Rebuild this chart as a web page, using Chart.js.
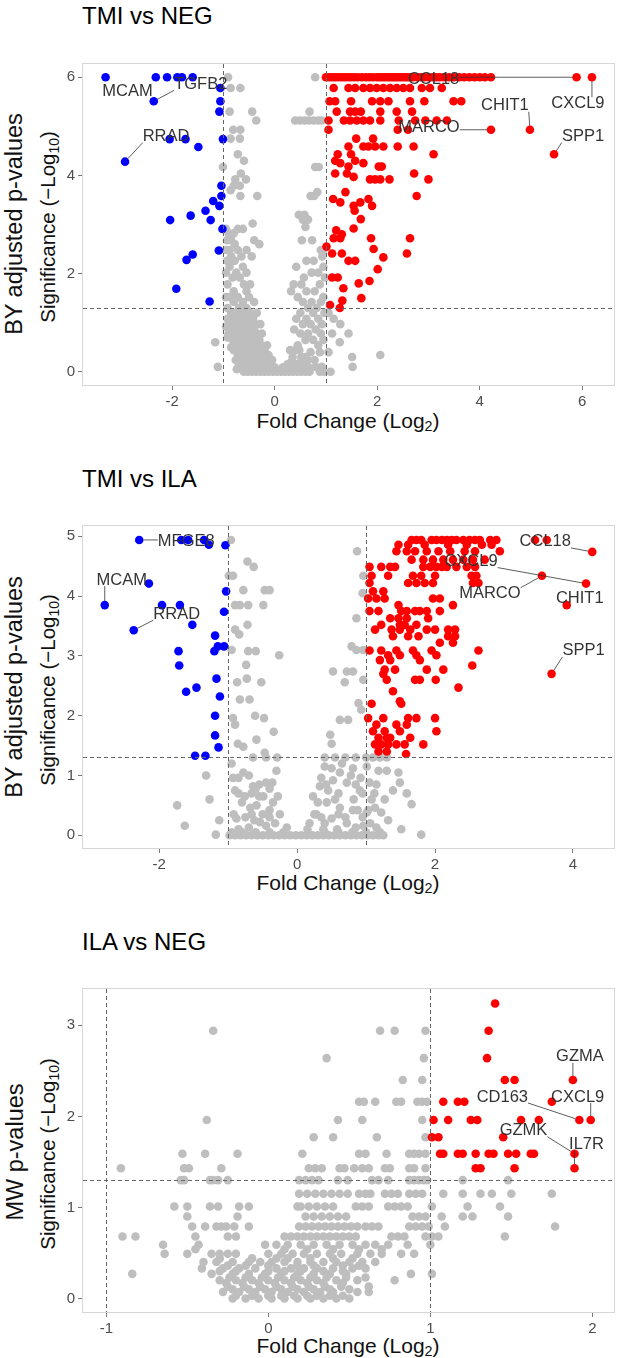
<!DOCTYPE html>
<html>
<head>
<meta charset="utf-8">
<script src="https://cdn.jsdelivr.net/npm/chart.js@4.4.1/dist/chart.umd.min.js"></script>
<style>
  body { margin: 0; background: #fff; }
  #page { position: relative; width: 620px; height: 1358px; overflow: hidden;
          font-family: "Liberation Sans", Arial, sans-serif; }
  canvas { position: absolute; left: 0; }
  .title { position: absolute; left: 82px; font-size: 24px; line-height: 24px; color: #000; white-space: nowrap; }
  .xtitle, .ytitle, .ylabel { position: absolute; white-space: nowrap; line-height: 1; color: #111; }
  .xtitle { transform: translate(-50%, -50%); font-size: 21px; }
  .ytitle { transform: translate(-50%, -50%) rotate(-90deg); font-size: 20.5px; }
  .ylabel { transform: translate(-50%, -50%) rotate(-90deg); font-size: 23.5px; }
  sub { font-size: 0.68em; vertical-align: -0.28em; line-height: 0; }
</style>
</head>
<body>
<div id="page">
  <div class="title" style="top:4px">TMI vs NEG</div>
  <div class="ylabel" style="left:15px; top:224px">BY adjusted p-values</div>
  <div class="ytitle" style="left:48px; top:227px">Significance (−Log<sub>10</sub>)</div>
  <div class="xtitle" style="left:348px; top:420px">Fold Change (Log<sub>2</sub>)</div>
  <canvas id="c1"></canvas>

  <div class="title" style="top:467px">TMI vs ILA</div>
  <div class="ylabel" style="left:15px; top:687px">BY adjusted p-values</div>
  <div class="ytitle" style="left:48px; top:690px">Significance (−Log<sub>10</sub>)</div>
  <div class="xtitle" style="left:348px; top:882px">Fold Change (Log<sub>2</sub>)</div>
  <canvas id="c2"></canvas>

  <div class="title" style="top:930px">ILA vs NEG</div>
  <div class="ylabel" style="left:16px; top:1152px">MW p-values</div>
  <div class="ytitle" style="left:48px; top:1154px">Significance (−Log<sub>10</sub>)</div>
  <div class="xtitle" style="left:348px; top:1345px">Fold Change (Log<sub>2</sub>)</div>
  <canvas id="c3"></canvas>
</div>
<script>
// ---- data: each row is [significance, [fold changes...]] ----

// TMI vs NEG
const p1Grey = [
  [6.0, [-0.91, 0.79]],
  [5.78, [-0.86, -0.67]],
  [5.30, [-0.88, -0.44, 0.68]],
  [5.12, [-0.36, 0.40, 0.49, 0.58, 0.67, 0.76, 0.85, 0.92]],
  [4.93, [-0.81, -0.67]],
  [4.75, [-0.86, -0.68]],
  [4.43, [-0.72]],
  [4.30, [-0.60]],
  [4.17, [-1.01, 0.79, 0.86]],
  [4.04, [-0.66]],
  [3.92, [-0.77, -0.56]],
  [3.79, [-0.80, -0.68]],
  [3.70, [-0.86]],
  [3.66, [0.83]],
  [3.58, [-0.67, -0.34, 0.70, 0.77]],
  [3.20, [0.47, 0.58]],
  [3.10, [0.55, 0.65]],
  [3.02, [-0.43]],
  [2.95, [0.60]],
  [2.91, [-0.95, -0.72, -0.62]],
  [2.82, [-0.90, -0.80]],
  [2.68, [-0.93, -0.85, -0.40, 0.53, 0.73]],
  [2.60, [-0.78, -0.30]],
  [2.48, [-0.95, -0.88, -0.72, -0.55, 0.90, 0.95]],
  [2.35, [-0.85, -0.65, -0.45, 0.93]],
  [2.26, [-0.93, -0.78, 0.62, 0.76]],
  [2.14, [-0.88, -0.62, 0.42, 0.95]],
  [2.02, [-0.95, -0.75, -0.55, 0.72, 0.85]],
  [1.92, [-0.82, -0.68, 0.57, 0.98]],
  [1.78, [-0.92, -0.60, -0.48, 0.37, 0.52, 0.88]],
  [1.64, [-0.80, -0.55, 0.32, 0.62, 0.78]],
  [1.52, [-0.95, -0.87, -0.72, -0.50, 0.45, 0.95]],
  [1.42, [-0.80, -0.62, -0.40, 0.55, 0.72, 0.90]],
  [1.30, [-0.92, -0.70, -0.55, 0.65, 0.82]],
  [1.20, [-0.85, -0.75, -0.62, -0.48, -0.35, 0.50, 0.75, 0.97, 1.05]],
  [1.08, [-0.92, -0.80, -0.68, -0.55, -0.42, 0.42, 0.62, 0.85, 1.15]],
  [0.97, [-0.88, -0.72, -0.60, -0.50, -0.38, -0.28, 0.55, 0.70, 0.92, 1.28]],
  [0.92, [-0.95, -0.84, -0.78]],
  [0.86, [-0.80, -0.66, -0.52, -0.40, 0.38, 0.80]],
  [0.78, [-0.90, -0.75, -0.62, -0.48, -0.35, -0.25, 0.50, 0.65, 0.90, 1.12, 1.44]],
  [0.70, [-0.92, -0.78, -0.66]],
  [0.65, [-0.82, -0.70, -0.56, -0.44, -0.30, 0.60, 0.75, 0.95]],
  [0.60, [-1.16, 1.27]],
  [0.54, [-0.75, -0.62, -0.50, -0.38, -0.26, -0.15, 0.45, 0.85]],
  [0.50, [-0.85, -0.70, -0.56]],
  [0.44, [-0.80, -0.68, -0.56, -0.44, -0.32, -0.20, 0.30, 0.40, 0.48]],
  [0.40, [0.70, 0.88, 1.05]],
  [0.34, [-0.72, -0.60, -0.48, -0.36, -0.24, -0.12, 2.06]],
  [0.30, [0.35, 0.52, 0.60, 1.51]],
  [0.24, [-0.76, -0.64, -0.52, -0.40, -0.28, -0.16, -0.05, 0.65, 0.78]],
  [0.20, [-0.66, -0.50, -0.32, 0.32, 0.50]],
  [0.15, [-0.70, -0.58, -0.46, -0.34, -0.22, -0.10, 0.25, 0.42, 0.58]],
  [0.10, [-1.11, 0.80, 0.92, 1.52]],
  [0.09, [-0.64, -0.48, -0.30, -0.16, 0.00, 0.16, 0.34, 0.50, 0.66]],
  [0.05, [-0.74, -0.62, -0.50, -0.38]],
  [0.02, [-0.56, -0.40, -0.24, -0.08, 0.08, 0.24, 0.40, 0.56]],
  [0.0, [-0.60, -0.52, -0.44, -0.36, -0.28, -0.20, -0.12, -0.04, 0.04, 0.12, 0.20, 0.28,
         0.36, 0.44, 0.52, 0.60, 0.68, 0.88, 0.96, 1.09]]
];
const p1Up = [
  [6.0, [1.00, 1.06, 1.12, 1.18, 1.24, 1.30, 1.36, 1.42, 1.48, 1.55, 1.62, 1.70, 1.78, 1.85,
         1.92, 2.00, 2.05, 2.10, 2.15, 2.20, 2.25, 2.30, 2.35, 2.40, 2.45, 2.50, 2.55, 2.60,
         2.65, 2.70, 2.78, 2.85, 2.92, 3.00, 3.08, 3.15, 3.22, 3.30, 3.40, 3.50, 3.60, 3.70,
         3.80, 3.90, 4.00, 4.10, 4.22, 5.89, 6.19]],
  [5.78, [1.15, 1.44, 1.57, 1.73, 1.86, 1.99, 2.12, 2.25, 2.38, 2.51, 2.64, 2.87, 3.03, 3.26]],
  [5.51, [1.07, 1.18, 1.49, 1.90, 2.06, 2.22, 2.64, 2.92, 3.49, 3.64]],
  [5.30, [1.21, 1.47, 1.57, 1.68, 2.06, 2.38, 2.68]],
  [5.12, [1.05, 1.35, 1.47, 1.60, 1.73, 1.86, 2.06, 2.42, 2.74, 2.94, 3.16, 3.36]],
  [4.93, [1.05, 2.40, 2.60, 4.22, 4.98]],
  [4.75, [1.59, 1.92]],
  [4.59, [1.44, 1.73, 1.83, 1.96, 2.12, 2.40, 2.71]],
  [4.43, [1.23, 1.49, 3.10, 5.45]],
  [4.30, [1.18, 1.57]],
  [4.25, [1.28, 1.73]],
  [4.18, [1.44, 2.03, 2.09]],
  [4.04, [1.18, 1.41, 2.72]],
  [3.97, [1.54]],
  [3.92, [1.86, 1.96, 2.06, 2.24, 3.00]],
  [3.66, [1.38]],
  [3.58, [2.77]],
  [3.52, [1.14, 1.83]],
  [3.45, [1.28, 1.67]],
  [3.38, [1.54, 1.90]],
  [3.28, [1.56]],
  [3.11, [1.68]],
  [2.92, [1.54]],
  [2.88, [1.20]],
  [2.80, [1.31]],
  [2.72, [1.15, 1.28, 1.88, 2.64]],
  [2.55, [1.01]],
  [2.50, [1.93]],
  [2.41, [1.12, 1.31, 2.58]],
  [2.33, [2.12]],
  [2.26, [1.44, 1.57]],
  [2.09, [2.01]],
  [1.92, [1.12, 1.23]],
  [1.85, [1.85]],
  [1.80, [1.64]],
  [1.70, [1.34]],
  [1.50, [1.69]],
  [1.45, [1.32]],
  [1.36, [1.08]],
  [1.30, [1.27]]
];
const p1Down = [
  [6.0, [-3.30, -2.32, -2.10, -1.90, -1.81, -1.60]],
  [5.78, [-1.06]],
  [5.51, [-2.36, -1.06]],
  [5.30, [-1.08]],
  [4.74, [-2.05, -1.74, -1.01]],
  [4.58, [-1.49]],
  [4.28, [-2.92]],
  [3.79, [-1.04]],
  [3.58, [-1.04]],
  [3.48, [-1.20]],
  [3.38, [-1.08]],
  [3.28, [-1.35]],
  [3.18, [-1.64]],
  [3.09, [-2.04, -1.25]],
  [2.91, [-1.02]],
  [2.47, [-1.09]],
  [2.39, [-1.60]],
  [2.28, [-1.72]],
  [1.69, [-1.92]],
  [1.43, [-1.27]]
];
const p1Genes = ['MCAM', 'TGFB2', 'RRAD', 'CCL18', 'CXCL9', 'CHIT1', 'MARCO', 'SPP1'];
const p1GeneFC = [-3.30, -2.36, -2.92, 5.89, 6.19, 4.98, 4.22, 5.45];
const p1GeneSig = [6.0, 5.51, 4.28, 6.0, 6.0, 4.93, 4.93, 4.43];
const p1XTicks = [-2, 0, 2, 4, 6];
const p1YTicks = [0, 2, 4, 6];

// TMI vs ILA
const p2Grey = [
  [4.94, [-0.96]],
  [4.75, [0.87]],
  [4.58, [-0.72]],
  [4.49, [-0.63]],
  [4.34, [-0.99, -0.93, 0.96]],
  [4.10, [-0.78, -0.47, -0.40]],
  [4.05, [0.95]],
  [3.85, [-0.90, -0.83, -0.71, -0.49]],
  [3.63, [0.86]],
  [3.52, [-0.72]],
  [3.44, [-0.90]],
  [3.36, [-0.84]],
  [3.16, [0.79]],
  [3.10, [-0.95, 0.86, 0.96]],
  [3.08, [-0.71, -0.60]],
  [3.01, [-0.26]],
  [2.85, [-0.74]],
  [2.74, [0.52, 0.72, 0.81]],
  [2.62, [-0.73]],
  [2.60, [0.96]],
  [2.56, [-0.87, -0.52, 0.69]],
  [2.27, [-0.83, -0.69]],
  [2.21, [0.89]],
  [2.10, [0.93]],
  [2.00, [-0.61]],
  [1.96, [-0.93, -0.48]],
  [1.93, [0.62, 0.74]],
  [1.85, [-0.90]],
  [1.73, [-0.34]],
  [1.68, [0.48]],
  [1.60, [-0.59]],
  [1.53, [-0.86, 0.50]],
  [1.48, [-0.78]],
  [1.38, [-0.47]],
  [1.30, [-0.64, -0.45, -0.29, 0.40, 0.55, 0.70, 0.85, 1.00, 1.10, 1.20, 1.30]],
  [1.20, [-0.95, 0.65]],
  [1.15, [0.40, 1.01]],
  [1.12, [0.81, 0.50]],
  [1.08, [-0.30, 1.30, 1.18]],
  [1.05, [-0.78, 0.62, 1.47]],
  [1.00, [-1.32, -0.70, 0.78]],
  [0.96, [-0.93, -0.85, 0.35, 0.92]],
  [0.92, [0.52]],
  [0.88, [-0.36, -0.45, 0.72, 1.49, 1.05]],
  [0.85, [-0.55, 0.42, 0.85, 1.15]],
  [0.82, [-0.64, 0.33]],
  [0.78, [-0.60, -0.40]],
  [0.75, [-0.90, 0.91, 1.39, 0.45]],
  [0.70, [1.59, 1.12, -0.85, -0.66, 0.60, 0.95]],
  [0.65, [-0.76, -0.49, 0.23, -0.55, -0.28]],
  [0.60, [-1.27, 1.08, 1.27, 0.55, 0.82]],
  [0.55, [0.43, 0.30, -0.80, -0.35]],
  [0.52, [1.66]],
  [0.50, [-1.74, -0.59]],
  [0.46, [0.62, 1.13, -0.68]],
  [0.42, [-0.40, 0.81, 1.03, 0.88]],
  [0.38, [1.01, 1.22]],
  [0.35, [-0.66, 0.28, -0.25, -0.50, -0.92, 0.60, 0.25]],
  [0.30, [-0.75, -0.40, 0.35, 0.70, 0.95]],
  [0.28, [-0.88, 0.50]],
  [0.25, [-1.13, 1.32, -0.62]],
  [0.22, [-0.54]],
  [0.20, [0.72, 1.06, -0.32, 0.18, 0.40]],
  [0.16, [-1.63, 0.96, -0.45]],
  [0.13, [-0.15, -0.70, 0.85, 1.15]],
  [0.10, [0.38, 1.51, -0.85, 0.58, 0.15]],
  [0.05, [-0.95, -0.80, -0.60, -0.40, -0.20, 0.40, 0.60, 0.80, 1.00, 1.20]],
  [0.01, [-1.18, 1.80]],
  [0.0, [-0.98, -0.90, -0.82, -0.74, -0.66, -0.58, -0.50, -0.42, -0.34, -0.26, -0.18, -0.10,
         -0.02, 0.06, 0.14, 0.22, 0.30, 0.38, 0.46, 0.54, 0.62, 0.70, 0.78, 0.86, 0.94, 1.02,
         1.10, 1.18, 1.25]]
];
const p2Up = [
  [4.94, [1.66, 1.73, 1.80, 1.95, 2.02, 2.10, 2.17, 2.24, 2.31, 2.41, 2.50, 2.58, 2.65, 2.80,
          2.89, 3.45, 3.62]],
  [4.86, [1.47, 1.61, 1.85, 2.19, 2.46, 2.68, 2.82]],
  [4.75, [1.44, 1.59, 1.71, 1.88, 2.05, 2.22, 2.43, 2.58, 2.94]],
  [4.74, [4.28]],
  [4.61, [1.66, 1.83, 1.97, 2.12, 2.26, 2.41, 2.55, 2.72]],
  [4.49, [1.05, 1.22, 1.35, 1.42, 1.83, 1.93, 2.02, 2.10, 2.17, 2.31, 2.46, 2.58]],
  [4.34, [1.08, 1.32, 1.68, 1.80, 2.00, 2.53, 2.60, 3.55]],
  [4.22, [1.05, 1.61, 1.73, 1.85, 1.97, 2.55, 2.63]],
  [4.21, [4.19]],
  [4.08, [1.10, 1.25]],
  [3.96, [1.03, 1.15, 1.27, 1.97, 2.07]],
  [3.85, [1.47, 2.26, 3.91]],
  [3.75, [1.05, 1.18, 1.51, 1.59, 1.71, 1.78, 1.88, 2.07]],
  [3.63, [1.35, 1.47, 1.59, 1.90]],
  [3.52, [1.22, 1.49, 1.56, 1.73]],
  [3.44, [1.13, 1.37, 1.49, 1.64, 1.88, 2.00, 2.19, 2.29]],
  [3.33, [1.39, 1.61, 1.76, 2.19, 2.29]],
  [3.22, [2.07, 2.26]],
  [3.09, [1.05, 1.22, 1.44, 1.68, 1.95, 2.63]],
  [3.01, [1.32, 1.49, 1.73, 2.02]],
  [2.93, [1.20, 1.35, 1.78]],
  [2.84, [2.54]],
  [2.77, [1.27, 1.42, 1.88, 2.12]],
  [2.70, [1.25, 3.69]],
  [2.60, [1.30, 1.71, 1.78, 2.01]],
  [2.47, [2.34]],
  [2.41, [1.39]],
  [2.24, [1.49]],
  [2.20, [1.08, 1.51]],
  [1.96, [1.03, 1.25, 1.61, 1.73, 2.00]],
  [1.85, [1.15, 1.44, 1.59]],
  [1.74, [1.10, 1.27, 1.49, 2.02]],
  [1.63, [1.18, 1.30, 1.35, 1.64]],
  [1.52, [1.13, 1.22, 1.32, 1.44, 1.56, 1.83]],
  [1.40, [1.18, 1.30]],
  [1.36, [1.58]]
];
const p2Down = [
  [4.94, [-2.29, -1.68, -1.58, -1.35]],
  [4.86, [-1.28]],
  [4.85, [-1.04]],
  [4.21, [-2.15]],
  [4.08, [-1.03]],
  [3.85, [-2.79, -1.96, -1.70]],
  [3.74, [-1.06]],
  [3.52, [-1.52]],
  [3.43, [-2.37]],
  [3.34, [-1.19]],
  [3.16, [-1.15, -1.06]],
  [3.08, [-1.72, -1.20]],
  [2.84, [-1.71]],
  [2.62, [-1.17]],
  [2.47, [-1.46]],
  [2.40, [-1.61]],
  [2.32, [-1.12]],
  [2.00, [-1.19]],
  [1.67, [-1.19]],
  [1.47, [-1.14]],
  [1.33, [-1.48, -1.33]]
];
const p2Genes = ['MFGE8', 'MCAM', 'RRAD', 'CCL18', 'CXCL9', 'MARCO', 'CHIT1', 'SPP1'];
const p2GeneFC = [-2.29, -2.79, -2.37, 4.28, 4.19, 3.55, 3.91, 3.69];
const p2GeneSig = [4.94, 3.85, 3.43, 4.74, 4.21, 4.34, 3.85, 2.70];
const p2XTicks = [-2, 0, 2, 4];
const p2YTicks = [0, 1, 2, 3, 4, 5];

// ILA vs NEG
const p3Grey = [
  [2.94, [-0.34, 0.69, 0.78, 0.97]],
  [2.64, [0.36, 0.96]],
  [2.40, [0.83, 0.95]],
  [2.16, [0.56, 0.59, 0.66, 0.79, 0.82, 0.92, 0.95, 0.98]],
  [1.96, [-0.38, 0.43, 0.58, 0.95]],
  [1.77, [0.28, 0.40, 0.67, 0.97]],
  [1.59, [-0.53, -0.39, -0.19, 0.21, 0.56, 0.60, 0.73, 0.87, 0.90, 0.93, 0.97]],
  [1.43, [-0.91, -0.52, -0.49, -0.29, 0.25, 0.29, 0.33, 0.44, 0.47, 0.53, 0.58, 0.62, 0.72,
          0.75, 0.87, 0.90, 0.97]],
  [1.30, [-0.54, -0.52, -0.36, -0.34, -0.31, -0.25, 0.19, 0.23, 0.27, 0.31, 0.43, 0.49, 0.64,
          0.68, 0.74, 0.87, 0.90, 0.93, 0.96, 0.98, 1.20, 1.48]],
  [1.15, [0.19, 0.24, 0.29, 0.34, 0.39, 0.44, 0.49, 0.56, 0.60, 0.63, 0.72, 0.76, 0.80, 0.87,
          0.91, 0.95, 1.08, 1.20, 1.31, 1.38, 1.50, 1.75]],
  [1.01, [-0.58, -0.50, -0.36, -0.31, -0.18, -0.12, 0.18, 0.20, 0.25, 0.30, 0.35, 0.40, 0.54,
          0.58, 0.62, 0.74, 0.78, 0.82, 0.86, 1.01, 1.23, 1.43]],
  [0.90, [-0.50, -0.19, 0.23, 0.28, 0.33, 0.38, 0.43, 0.48, 0.89, 0.93, 0.97, 1.07, 1.20,
          1.26, 1.48]],
  [0.79, [-0.47, -0.39, -0.32, -0.29, -0.26, -0.21, -0.12, 0.19, 0.23, 0.27, 0.31, 0.35, 0.39,
          0.43, 0.47, 0.51, 0.55, 0.60, 0.64, 0.68, 0.87, 0.91, 0.95, 0.99, 1.09, 1.77]],
  [0.68, [-0.90, -0.82, -0.45, -0.25, -0.20, 0.10, 0.14, 0.18, 0.22, 0.26, 0.30, 0.34, 0.38,
          0.42, 0.46, 0.50, 0.54, 0.76, 0.80, 0.84, 0.97, 1.01, 1.05, 1.46]],
  [0.59, [-0.65, -0.43, -0.02, 0.05, 0.12, 0.20, 0.28, 0.36, 0.44, 0.52, 0.60, 0.66, 0.74,
          0.86, 1.00]],
  [0.54, [-0.45, 0.10, 0.24, 0.40, 0.56, 0.70]],
  [0.49, [-0.64, -0.50, -0.35, -0.30, -0.25, -0.20, 0.00, 0.08, 0.15, 0.22, 0.30, 0.38, 0.45,
          0.55, 0.63, 0.70, 0.82, 0.90]],
  [0.44, [-0.30, -0.10, 0.05, 0.12, 0.26, 0.40, 0.52]],
  [0.40, [-0.40, -0.32, -0.22, -0.12, -0.05, 0.02, 0.10, 0.18, 0.26, 0.34, 0.42, 0.50, 0.58,
          0.66]],
  [0.36, [-0.25, -0.14, 0.00, 0.18, 0.28, 0.46, 0.56]],
  [0.33, [-0.41, -0.28, -0.18, -0.08, 0.05, 0.14, 0.22, 0.30, 0.40, 0.52, 0.60]],
  [0.30, [-0.30, -0.20, 0.00, 0.10, 0.20, 0.34, 0.46]],
  [0.27, [-0.84, -0.35, -0.22, -0.12, -0.02, 0.08, 0.18, 0.28, 0.38, 0.48, 0.88, 1.01]],
  [0.23, [-0.24, -0.14, -0.04, 0.06, 0.16, 0.26, 0.36, 0.48, 0.60]],
  [0.20, [-0.30, -0.20, -0.10, 0.00, 0.10, 0.20, 0.30, 0.42, 0.55, 0.78]],
  [0.17, [-0.26, -0.16, -0.06, 0.04, 0.14, 0.24, 0.34, 0.46]],
  [0.13, [-0.25, -0.15, -0.05, 0.05, 0.15, 0.25, 0.35, 0.45, 0.62]],
  [0.10, [-0.22, -0.12, -0.02, 0.08, 0.18, 0.28, 0.38, 0.50]],
  [0.07, [-0.28, -0.18, -0.08, 0.02, 0.12, 0.22, 0.32, 0.40, 0.55, 0.62]],
  [0.03, [-0.20, -0.10, 0.00, 0.08, 0.16, 0.24, 0.30, 0.38, 0.46]],
  [0.0, [-0.22, -0.14, -0.06, 0.02, 0.10, 0.18, 0.26, 0.34, 0.42, 0.50]]
];
const p3Up = [
  [3.24, [1.40]],
  [2.94, [1.36]],
  [2.64, [1.35]],
  [2.40, [1.46, 1.52, 1.88]],
  [2.16, [1.08, 1.17, 1.21, 1.75]],
  [1.96, [1.02, 1.11, 1.25, 1.29, 1.56, 1.67, 1.92, 1.99]],
  [1.77, [1.01, 1.05, 1.45]],
  [1.59, [1.06, 1.08, 1.17, 1.20, 1.28, 1.36, 1.39, 1.48, 1.53, 1.62, 1.64, 1.89]],
  [1.43, [1.28, 1.31, 1.52, 1.89]]
];
const p3Down = [];
const p3Genes = ['GZMA', 'CD163', 'CXCL9', 'GZMK', 'IL7R'];
const p3GeneFC = [1.88, 1.92, 1.99, 1.89, 1.89];
const p3GeneSig = [2.40, 1.96, 1.96, 1.59, 1.43];
const p3XTicks = [-1, 0, 1, 2];
const p3YTicks = [0, 1, 2, 3];

const fcCutoffs = [-1, 1];
const sigCutoff = 1.301;   // -log10(0.05)

// ---- layout (pixels) ----
const frames = [
  { id: 'c1', top: 63, bottom: 386, x: [-3.76, 6.64], y: [-0.29, 6.29],
    nudge: [[22, 14], [47, -17], [41, -25], [-143, 2], [-14, 26], [-25, -24], [-62, -2], [29, -18]] },
  { id: 'c2', top: 525, bottom: 849, x: [-3.12, 4.61], y: [-0.23, 5.19],
    nudge: [[47, 2], [17, -25], [43, -16], [-47, -10], [-115, -22], [-52, 18], [13, -7], [32, -23]] },
  { id: 'c3', top: 988, bottom: 1313, x: [-1.15, 2.14], y: [-0.16, 3.41],
    nudge: [[7, -23], [-77, -23], [-13, -23], [-51, -23], [12, -24]] }
];
const plotLeft = 82, plotRight = 615, margin = 30;

const toPoints = rows => rows.flatMap(([sig, fcs]) => fcs.map(fc => ({ x: fc, y: sig })));

const volcanoPlugin = {
  id: 'volcano',
  afterDatasetsDraw(chart, args, opts) {
    const { ctx, chartArea: a, scales: { x, y } } = chart;
    ctx.save();
    ctx.strokeStyle = '#d6d6d6';
    ctx.lineWidth = 1;
    ctx.strokeRect(a.left + 0.5, a.top + 0.5, a.width - 1, a.height - 1);

    ctx.strokeStyle = '#666';
    ctx.setLineDash([4, 3]);
    fcCutoffs.forEach(v => {
      const px = Math.round(x.getPixelForValue(v)) + 0.5;
      ctx.beginPath(); ctx.moveTo(px, a.top + 1); ctx.lineTo(px, a.bottom - 1); ctx.stroke();
    });
    const py = Math.round(y.getPixelForValue(sigCutoff)) + 0.5;
    ctx.beginPath(); ctx.moveTo(a.left + 1, py); ctx.lineTo(a.right - 1, py); ctx.stroke();
    ctx.setLineDash([]);

    // gene labels with leader segments
    ctx.font = '16.5px "Liberation Sans", Arial, sans-serif';
    ctx.textAlign = 'center';
    ctx.textBaseline = 'middle';
    ctx.strokeStyle = '#333';
    ctx.fillStyle = '#333';
    ctx.lineWidth = 0.8;
    opts.genes.forEach((g, i) => {
      const px = x.getPixelForValue(opts.fc[i]);
      const py = y.getPixelForValue(opts.sig[i]);
      const [dx, dy] = opts.nudge[i];
      const cx = px + dx, cy = py + dy;
      const w = ctx.measureText(g).width, h = 12;
      const ex = Math.max(cx - w / 2, Math.min(px, cx + w / 2));
      const ey = Math.max(cy - h / 2, Math.min(py, cy + h / 2));
      const d = Math.hypot(ex - px, ey - py);
      if (d > 9) {
        const r = 4 / d;
        ctx.beginPath();
        ctx.moveTo(px + (ex - px) * r, py + (ey - py) * r);
        ctx.lineTo(ex, ey);
        ctx.stroke();
      }
      ctx.fillText(g, cx, cy);
    });
    ctx.restore();
  }
};

const panels = [
  { grey: p1Grey, up: p1Up, down: p1Down, genes: p1Genes, fc: p1GeneFC, sig: p1GeneSig, xt: p1XTicks, yt: p1YTicks },
  { grey: p2Grey, up: p2Up, down: p2Down, genes: p2Genes, fc: p2GeneFC, sig: p2GeneSig, xt: p2XTicks, yt: p2YTicks },
  { grey: p3Grey, up: p3Up, down: p3Down, genes: p3Genes, fc: p3GeneFC, sig: p3GeneSig, xt: p3XTicks, yt: p3YTicks }
];

const tickFont = { family: '"Liberation Sans", Arial, sans-serif', size: 15 };
const tickGrid = { display: true, drawOnChartArea: false, drawTicks: true, tickLength: 4, color: '#7a7a7a' };

panels.forEach((p, i) => {
  const f = frames[i];
  const canvas = document.getElementById(f.id);
  canvas.width = 620;
  canvas.height = f.bottom - f.top + 2 * margin;
  canvas.style.top = (f.top - margin) + 'px';

  const point = (data, color, order) => ({
    data: toPoints(data), backgroundColor: color, borderWidth: 0,
    pointRadius: 4.3, pointHoverRadius: 4.3, order
  });

  new Chart(canvas.getContext('2d'), {
    type: 'scatter',
    data: {
      datasets: [
        point(p.grey, '#bebebe', 3),
        point(p.up, '#ff0000', 1),
        point(p.down, '#0000ff', 1)
      ]
    },
    options: {
      responsive: false,
      animation: false,
      devicePixelRatio: 1,
      events: [],
      layout: { padding: { left: 0, right: 620 - plotRight, top: margin, bottom: 0 } },
      plugins: {
        legend: { display: false },
        tooltip: { enabled: false },
        volcano: { genes: p.genes, fc: p.fc, sig: p.sig, nudge: f.nudge }
      },
      scales: {
        x: {
          type: 'linear', min: f.x[0], max: f.x[1],
          grid: tickGrid,
          border: { display: false },
          afterFit: s => { s.height = margin; },
          afterBuildTicks: s => { s.ticks = p.xt.map(v => ({ value: v })); },
          ticks: { autoSkip: false, maxRotation: 0, padding: 3, color: '#4d4d4d', font: tickFont }
        },
        y: {
          type: 'linear', min: f.y[0], max: f.y[1],
          grid: tickGrid,
          border: { display: false },
          afterFit: s => { s.width = plotLeft; },
          afterBuildTicks: s => { s.ticks = p.yt.map(v => ({ value: v })); },
          ticks: { autoSkip: false, padding: 3, color: '#4d4d4d', font: tickFont }
        }
      }
    },
    plugins: [volcanoPlugin]
  });
});
</script>
</body>
</html>
